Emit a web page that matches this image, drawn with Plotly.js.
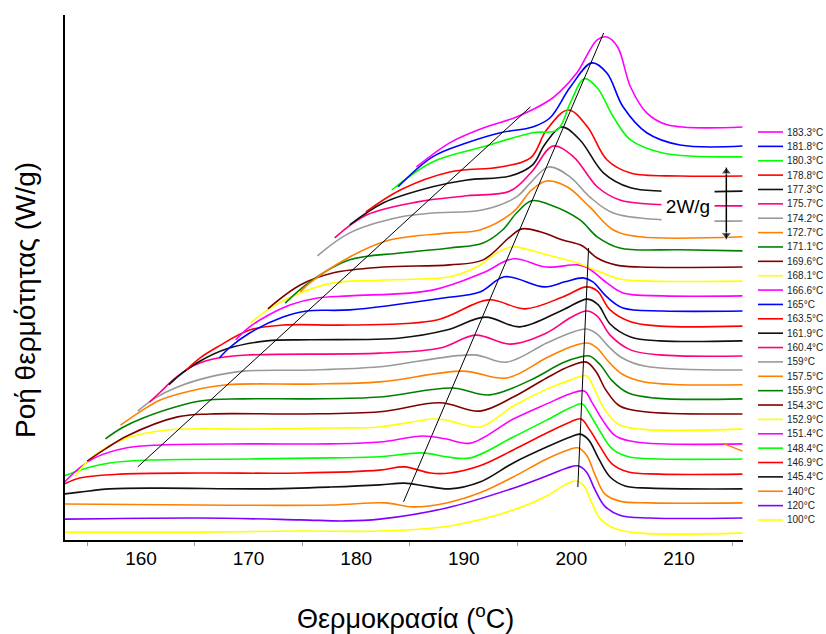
<!DOCTYPE html>
<html><head><meta charset="utf-8">
<script src="https://cdn.plot.ly/plotly-3.0.1.min.js"></script>
<style>html,body{margin:0;padding:0;background:#fff}#chart{width:826px;height:634px}</style>
</head><body><div id="chart"></div>
<script>
// Legend labels (isothermal temperatures), top to bottom
const legendLabels = ['183.3°C','181.8°C','180.3°C','178.8°C','177.3°C','175.7°C','174.2°C','172.7°C','171.1°C','169.6°C','168.1°C','166.6°C','165°C','163.5°C','161.9°C','160.4°C','159°C','157.5°C','155.9°C','154.3°C','152.9°C','151.4°C','148.4°C','146.9°C','145.4°C','140°C','120°C','100°C'];
const curveColors = ['#FF00FF','#0000FF','#00FF00','#FF0000','#111111','#FF0080','#999999','#FF8000','#008000','#800000','#FFFF00','#FF00FF','#0000FF','#FF0000','#111111','#FF0080','#999999','#FF8000','#008000','#800000','#FFFF00','#FF00FF','#00FF00','#FF0000','#111111','#FF8000','#8000FF','#FFFF00'];

// Temperature (°C) and stacked heat flow (W/g) of each curve
const T183_3 = [185.6,188.7,191.8,194.9,198.0,198.9,200.5,202.4,203.3,204.3,205.5,207.0,208.9,215.9];
const Q183_3 = [10.36,11.03,11.44,11.75,12.22,12.44,12.97,13.89,13.97,13.69,12.58,11.86,11.53,11.47];
const T181_8 = [183.9,187.1,190.3,193.4,196.4,198.0,199.9,201.9,203.3,204.8,207.0,210.1,215.9];
const Q181_8 = [9.81,10.64,11.03,11.31,11.47,11.72,12.58,13.25,12.97,12.03,11.31,10.97,10.94];
const T180_3 = [183.3,187.1,191.8,196.4,198.7,199.9,201.2,202.4,203.9,205.5,208.5,215.9];
const Q180_3 = [9.72,10.50,10.92,11.31,11.39,12.14,12.81,12.56,11.75,11.11,10.75,10.64];
const T178_8 = [180.9,184.1,188.7,193.4,196.2,197.7,199.7,201.5,203.3,205.5,210.1,215.9];
const Q178_8 = [9.11,9.72,10.22,10.36,10.61,11.39,11.94,11.47,10.56,10.19,10.11,10.11];
const T177_3 = [179.4,182.5,187.1,190.3,194.3,196.4,197.5,199.1,200.8,203.0,205.5,208.5,215.9];
const Q177_3 = [8.75,9.36,9.81,10.00,10.11,10.42,10.97,11.47,11.11,10.19,9.78,9.69,9.69];
const T175_7 = [178.0,181.0,185.7,190.3,194.3,196.3,198.3,200.2,202.4,204.5,208.5,215.9];
const Q175_7 = [8.39,9.03,9.39,9.56,9.69,10.22,10.94,10.64,9.81,9.44,9.31,9.28];
const T174_2 = [176.4,179.4,184.1,187.1,191.8,194.9,196.2,197.9,199.9,201.7,203.9,208.5,215.9];
const Q174_2 = [7.89,8.53,8.97,9.08,9.17,9.53,9.92,10.36,10.08,9.53,9.08,8.89,8.86];
const T172_7 = [174.8,175.7,179.4,183.1,188.7,191.5,194.6,196.3,197.7,199.6,201.7,203.9,206.4,215.9];
const Q172_7 = [6.89,7.14,7.86,8.33,8.53,8.61,9.11,9.72,9.97,9.81,9.25,8.61,8.42,8.42];
const T171_1 = [173.4,175.7,179.4,184.1,188.7,191.8,193.6,194.9,196.3,198.0,200.8,202.4,204.5,210.1,215.9];
const Q171_1 = [6.58,7.17,7.78,7.97,8.11,8.25,8.61,9.08,9.42,9.31,8.89,8.42,8.11,8.06,8.03];
const T169_6 = [171.8,174.8,177.9,182.5,188.7,191.8,194.3,195.4,197.1,199.2,201.0,202.4,204.1,206.4,215.9];
const Q169_6 = [6.42,7.08,7.42,7.58,7.64,7.78,8.42,8.64,8.56,8.33,8.17,7.83,7.64,7.58,7.58];
const T168_1 = [170.2,172.0,174.8,177.9,182.5,188.7,191.2,193.4,194.6,197.7,200.3,202.7,204.5,207.3,215.9];
const Q168_1 = [6.03,6.44,6.86,7.14,7.22,7.31,7.58,8.03,8.14,7.92,7.72,7.44,7.25,7.19,7.19];
const T166_6 = [168.8,170.1,171.7,173.9,176.4,179.4,187.1,191.8,194.6,197.7,200.6,201.5,203.3,204.8,208.5,215.9];
const Q166_6 = [5.56,5.92,6.22,6.53,6.72,6.78,6.94,7.42,7.81,7.58,7.64,7.56,7.14,6.86,6.78,6.78];
const T165_0 = [167.3,168.3,170.1,173.2,175.4,179.4,188.1,191.5,193.8,197.5,199.4,201.1,202.0,203.3,204.8,208.5,215.9];
const Q165_0 = [5.06,5.36,5.75,6.19,6.36,6.39,6.72,6.89,7.31,7.03,7.17,7.28,7.17,6.75,6.44,6.36,6.36];
const T163_5 = [164.2,165.5,167.1,170.1,173.2,179.4,187.5,192.3,195.7,199.2,201.4,202.4,203.6,205.5,208.2,215.9];
const Q163_5 = [4.72,5.06,5.36,5.83,5.97,5.97,6.11,6.67,6.42,6.75,7.03,6.92,6.39,6.06,5.94,5.94];
const T161_9 = [162.6,163.6,165.5,168.0,171.7,175.7,184.1,188.4,192.0,195.2,199.2,201.5,202.5,203.6,205.5,208.2,215.9];
const Q161_9 = [4.31,4.58,4.97,5.31,5.53,5.56,5.61,5.83,6.19,5.92,6.39,6.69,6.53,6.00,5.64,5.53,5.53];
const T160_4 = [160.8,161.8,163.2,165.0,167.3,170.1,182.2,187.8,191.1,194.3,197.7,199.9,201.4,202.4,203.6,205.5,208.2,215.9];
const Q160_4 = [3.83,4.11,4.50,4.86,5.06,5.14,5.19,5.33,5.69,5.44,5.75,6.17,6.36,6.22,5.69,5.28,5.14,5.11];
const T159_0 = [159.7,161.3,163.4,166.4,169.5,175.7,182.2,190.9,194.0,197.7,199.9,201.4,202.4,203.4,204.7,206.8,215.9];
const Q159_0 = [3.58,3.94,4.25,4.53,4.69,4.72,4.81,5.14,4.94,5.47,5.75,5.86,5.72,5.39,5.06,4.83,4.72];
const T157_5 = [158.1,159.9,161.8,164.6,168.0,175.7,182.2,189.9,194.0,197.7,199.9,201.5,202.4,203.4,204.7,206.8,215.9];
const Q157_5 = [3.19,3.56,3.89,4.14,4.31,4.33,4.39,4.69,4.50,5.06,5.36,5.47,5.33,4.97,4.61,4.39,4.31];
const T155_9 = [156.7,158.2,160.2,165.5,169.5,175.7,182.2,188.9,192.4,196.2,199.2,200.8,201.7,202.7,203.8,205.3,207.8,215.9];
const Q155_9 = [2.81,3.11,3.39,3.86,3.92,3.92,3.97,4.22,4.03,4.44,4.92,5.08,5.11,4.86,4.42,4.08,3.94,3.92];
const T154_3 = [155.0,156.7,158.7,163.4,166.4,174.8,182.2,187.8,191.5,194.6,197.7,199.9,201.4,202.3,203.2,204.5,206.8,215.9];
const Q154_3 = [2.19,2.53,2.89,3.42,3.50,3.50,3.56,3.81,3.58,3.97,4.50,4.83,4.94,4.67,4.17,3.72,3.56,3.50];
const T152_9 = [153.9,155.5,158.7,162.7,170.1,177.6,182.2,187.1,188.4,191.5,194.6,197.7,199.9,201.4,202.1,203.0,204.3,206.4,215.9];
const Q152_9 = [1.78,2.31,2.83,3.06,3.08,3.11,3.14,3.36,3.33,3.14,3.72,4.19,4.44,4.56,4.22,3.67,3.22,3.08,3.08];
const T151_4 = [152.9,154.3,155.7,158.7,161.8,170.1,177.6,182.2,186.2,188.3,190.6,194.6,197.7,199.9,201.2,201.9,202.9,204.1,206.0,215.9];
const Q151_4 = [1.61,2.00,2.28,2.56,2.64,2.67,2.67,2.72,2.89,2.81,2.69,3.36,3.78,4.06,4.14,3.83,3.33,2.89,2.72,2.67];
const T148_4 = [152.9,154.3,157.1,160.8,170.1,177.6,182.2,186.2,188.4,190.6,194.6,197.7,199.9,201.0,201.7,202.7,203.8,205.3,208.2,215.9];
const Q148_4 = [1.78,1.94,2.14,2.22,2.25,2.28,2.31,2.42,2.31,2.28,2.86,3.33,3.67,3.78,3.50,3.00,2.53,2.31,2.25,2.25];
const T146_9 = [152.9,154.3,158.1,165.5,174.8,182.2,184.5,186.9,188.7,191.5,194.6,197.7,199.9,200.9,201.7,202.7,203.8,205.3,208.2,215.9];
const Q146_9 = [1.56,1.72,1.83,1.86,1.86,1.94,2.03,1.86,1.86,2.06,2.50,2.97,3.28,3.36,3.06,2.58,2.11,1.89,1.83,1.83];
const T145_4 = [152.9,154.3,157.1,161.8,171.1,177.6,182.2,184.5,186.4,188.7,191.5,194.6,197.7,199.9,200.8,201.6,202.5,203.6,205.0,207.3,215.9];
const Q145_4 = [1.28,1.33,1.42,1.44,1.42,1.47,1.53,1.58,1.50,1.42,1.61,2.14,2.58,2.86,2.94,2.78,2.28,1.75,1.50,1.44,1.42];
const T140 = [152.9,165.5,177.6,182.7,185.3,188.4,191.5,194.6,197.7,199.7,200.6,201.4,202.2,203.1,204.5,207.3,215.9];
const Q140 = [1.00,0.97,0.97,1.03,0.92,1.03,1.31,1.75,2.25,2.50,2.56,2.36,1.81,1.28,1.08,1.03,1.03];
const T120 = [152.9,165.5,174.8,179.0,182.2,188.4,194.6,197.7,199.6,200.6,201.4,202.2,203.1,204.5,207.3,215.9];
const Q120 = [0.58,0.61,0.56,0.53,0.58,0.89,1.44,1.78,2.00,2.06,1.89,1.39,0.94,0.69,0.61,0.61];
const T100 = [152.9,165.5,174.8,182.2,188.7,194.6,197.7,199.4,200.3,201.1,201.9,202.7,204.1,206.4,215.9];
const Q100 = [0.22,0.22,0.25,0.25,0.39,0.83,1.22,1.53,1.64,1.53,1.03,0.58,0.31,0.19,0.19];

// Straight guide lines drawn on the chart (°C, W/g end points)
const guideT = [[159.7,196.2],[184.4,203.0],[200.6,201.6]];
const guideQ = [[2.03,12.03],[1.06,14.08],[1.47,8.11]];
// small stray orange segment at the right edge of the original
const strayT = [214.2, 215.9];
const strayQ = [2.67, 2.47];

// 2 W/g scale bar (arrow tips)
const scaleBarT = [214.4, 214.4];
const scaleBarQ = [8.35, 10.35];
const scaleLabel = '2W/g';
const scaleLabelPos = [210.8, 9.25];

const xTitle = 'Θερμοκρασία (<sup>o</sup>C)';
const yTitle = 'Ροή θερμότητας (W/g)';

const curves = [[T183_3,Q183_3],[T181_8,Q181_8],[T180_3,Q180_3],[T178_8,Q178_8],[T177_3,Q177_3],[T175_7,Q175_7],[T174_2,Q174_2],[T172_7,Q172_7],[T171_1,Q171_1],[T169_6,Q169_6],[T168_1,Q168_1],[T166_6,Q166_6],[T165_0,Q165_0],[T163_5,Q163_5],[T161_9,Q161_9],[T160_4,Q160_4],[T159_0,Q159_0],[T157_5,Q157_5],[T155_9,Q155_9],[T154_3,Q154_3],[T152_9,Q152_9],[T151_4,Q151_4],[T148_4,Q148_4],[T146_9,Q146_9],[T145_4,Q145_4],[T140,Q140],[T120,Q120],[T100,Q100]];

const FONT = 'Liberation Sans, Arial, sans-serif';
const traces = [];
for (let i = curves.length - 1; i >= 0; i--) {
  traces.push({type:'scatter', mode:'lines', x:curves[i][0], y:curves[i][1], name:legendLabels[i],
    line:{color:curveColors[i], width:1.6, shape:'spline', smoothing:1}, showlegend:false, hoverinfo:'skip'});
}
for (let g = 0; g < guideT.length; g++) {
  traces.push({type:'scatter', mode:'lines', x:guideT[g], y:guideQ[g], line:{color:'#000', width:1}, showlegend:false, hoverinfo:'skip'});
}
traces.push({type:'scatter', mode:'lines', x:strayT, y:strayQ, line:{color:'#FF8000', width:1.4}, showlegend:false, hoverinfo:'skip'});

// manual compact legend
const shapes = [], annotations = [];
const legTop = 132, legStep = 14.37, plotBottom = 540, plotH = 525, plotL = 65, plotW = 678;
for (let i = 0; i < legendLabels.length; i++) {
  const py = legTop + i * legStep;
  const yp = (plotBottom - py) / plotH;
  shapes.push({type:'line', xref:'paper', yref:'paper', x0:(758-plotL)/plotW, x1:(783-plotL)/plotW, y0:yp, y1:yp, line:{color:curveColors[i], width:1.6}});
  annotations.push({xref:'paper', yref:'paper', x:(785-plotL)/plotW, y:yp, xanchor:'left', yanchor:'middle', showarrow:false, text:legendLabels[i], font:{family:FONT, size:10, color:'#222'}});
}
annotations.push({x:scaleLabelPos[0], y:scaleLabelPos[1], xref:'x', yref:'y', text:scaleLabel, showarrow:false, bgcolor:'#fff', width:50, height:35, font:{family:FONT, size:19, color:'#000'}});
// axis titles placed as in the original
annotations.push({xref:'paper', yref:'paper', x:(405-plotL)/plotW, y:(plotBottom-617)/plotH, xanchor:'center', yanchor:'middle', showarrow:false, text:xTitle, font:{family:FONT, size:27, color:'#000'}});
annotations.push({xref:'paper', yref:'paper', x:(25-plotL)/plotW, y:(plotBottom-300)/plotH, xanchor:'center', yanchor:'middle', textangle:-90, showarrow:false, text:yTitle, font:{family:FONT, size:28, color:'#000'}});

// scale bar: line with arrowheads at both ends
traces.push({type:'scatter', mode:'lines', x:scaleBarT, y:scaleBarQ, line:{color:'#000', width:1.5}, showlegend:false, hoverinfo:'skip'});
traces.push({type:'scatter', mode:'markers', x:scaleBarT, y:[scaleBarQ[0]+0.12, scaleBarQ[1]-0.12],
  marker:{symbol:['triangle-down','triangle-up'], size:[9,9], color:'#000'}, showlegend:false, hoverinfo:'skip'});

const layout = {
  width:826, height:634, margin:{l:65, r:83, t:15, b:94},
  paper_bgcolor:'#fff', plot_bgcolor:'#fff', showlegend:false,
  font:{family:FONT, color:'#000'},
  xaxis:{range:[152.94,215.95], showline:true, linecolor:'#000', linewidth:2, showgrid:false, zeroline:false,
    tick0:160, dtick:10, ticks:'',
    minor:{tick0:155, dtick:10, ticks:'outside', ticklen:4, tickcolor:'#999', tickwidth:1, showgrid:false},
    tickfont:{family:FONT, size:19, color:'#000'}, automargin:false},
  yaxis:{range:[0,14.58], showline:true, linecolor:'#000', linewidth:2, showgrid:false, zeroline:false,
    showticklabels:false, ticks:'', automargin:false},
  shapes:shapes, annotations:annotations
};
Plotly.newPlot('chart', traces, layout, {staticPlot:true, displayModeBar:false});
</script>
</body></html>
